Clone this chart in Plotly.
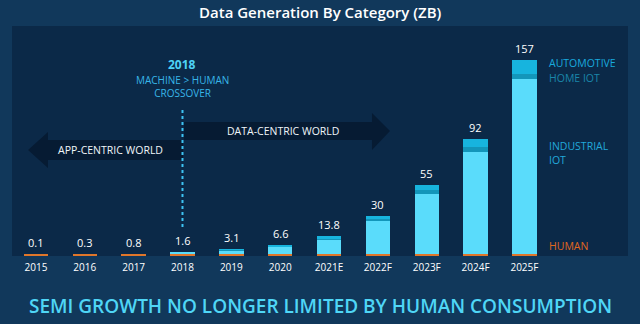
import plotly.graph_objects as go

years = ["2015", "2016", "2017", "2018", "2019", "2020", "2021E", "2022F", "2023F", "2024F", "2025F"]
total_labels = ["0.1", "0.3", "0.8", "1.6", "3.1", "6.6", "13.8", "30", "55", "92", "157"]
human = [2, 2, 2, 2, 2, 2, 2, 2, 2, 2, 2]
industrial_iot = [0, 0, 0, 1.2, 2.8, 5.5, 11, 26, 48, 81.5, 140]
home_iot = [0, 0, 0, 0, 0.3, 0.5, 1.0, 1.6, 3.2, 4.0, 4.0]
automotive = [0, 0, 0, 0, 0.3, 0.6, 1.8, 2.4, 3.5, 6.5, 11.2]

C_HUMAN = "#E0762A"
C_IND = "#5ADCFB"
C_HOME = "#1396BA"
C_AUTO = "#17B4DE"
PANEL = "#0B2948"
OUTER = "#11385B"

# plot area in pixels
L, R, T, B = 12, 628, 26, 256
W, H = 640, 324


def px(x):
    return (x - L) / (R - L)


def py(y):
    return (B - y) / (B - T)


xs = list(range(len(years)))
fig = go.Figure()
for name, vals, col in [("Human", human, C_HUMAN), ("Industrial IoT", industrial_iot, C_IND),
                        ("Home IoT", home_iot, C_HOME), ("Automotive", automotive, C_AUTO)]:
    fig.add_trace(go.Bar(x=xs, y=vals, name=name, marker=dict(color=col, line=dict(width=0)),
                         width=0.5, hoverinfo="skip"))

tops = [h + i + ho + a for h, i, ho, a in zip(human, industrial_iot, home_iot, automotive)]
annotations = []
for x, t, lab in zip(xs, tops, total_labels):
    annotations.append(dict(x=x, y=t, xref="x", yref="y", text=lab, showarrow=False,
                            yanchor="bottom", yshift=2,
                            font=dict(family="Open Sans", size=11, color="#FFFFFF")))

font = "Open Sans"


def ann(xp, yp, text, size, color, xanchor="center", weight=None, xref="paper", align="center"):
    f = dict(family=font, size=size, color=color)
    if weight:
        f["weight"] = weight
    return dict(x=xp, y=py(yp), xref=xref, yref="paper", text=text, showarrow=False,
                xanchor=xanchor, yanchor="middle", align=align, font=f, borderpad=0)


# title
annotations.append(ann(0.5, 12, "Data Generation By Category (ZB)", 15, "#FFFFFF", weight=600))
# right side legend labels
for txt, ypix, col in [("AUTOMOTIVE", 63, "#19A9DE"), ("HOME IOT", 78, "#1A86AA"),
                       ("INDUSTRIAL<br>IOT", 153, "#22A8DA"), ("HUMAN", 246, "#E0681E")]:
    annotations.append(ann(px(548), ypix, txt, 10.5, col, xanchor="left", align="left"))
# crossover text
annotations.append(ann(3, 64, "<b>2018</b>", 12, "#4ED2F6", xref="x"))
annotations.append(ann(3, 86.5, "MACHINE &gt; HUMAN<br>CROSSOVER", 10, "#38B6E8", xref="x"))
# world labels
annotations.append(ann(px(110), 150, "APP-CENTRIC WORLD", 10.5, "#F0F6FA"))
annotations.append(ann(px(283), 131, "DATA-CENTRIC WORLD", 10.5, "#F0F6FA"))
# footer
annotations.append(ann(0.5, 306, "SEMI GROWTH NO LONGER LIMITED BY HUMAN CONSUMPTION", 19, "#4FD6F6",
                       weight=600))


def path_pts(pts):
    return "M " + " L ".join(f"{px(x):.4f},{py(y):.4f}" for x, y in pts) + " Z"


shapes = [
    dict(type="path", xref="paper", yref="paper", layer="below", line=dict(width=0),
         fillcolor="rgba(5,24,46,0.8)",
         path=path_pts([(183, 140), (48, 140), (48, 132), (28, 150), (48, 168), (48, 160), (183, 160)])),
    dict(type="path", xref="paper", yref="paper", layer="below", line=dict(width=0),
         fillcolor="rgba(5,24,46,0.8)",
         path=path_pts([(184, 122), (372, 122), (372, 113), (390, 131), (372, 150), (372, 140), (184, 140)])),
    dict(type="line", xref="x", yref="paper", x0=3, x1=3, y0=py(227), y1=py(107),
         line=dict(color="#3EC3F2", width=2, dash="dot")),
]

fig.update_layout(
    width=W, height=H, barmode="stack", showlegend=False,
    margin=dict(l=L, r=W - R, t=T, b=H - B),
    paper_bgcolor=OUTER, plot_bgcolor=PANEL,
    xaxis=dict(range=[-0.49, 12.12], tickmode="array", tickvals=xs, ticktext=years,
               showgrid=False, zeroline=False, showline=False, ticks="", ticklen=0,
               ticklabelstandoff=4,
               tickfont=dict(family=font, size=10, color="#FFFFFF"), fixedrange=True),
    yaxis=dict(range=[0, 184.3], visible=False, showgrid=False, zeroline=False, fixedrange=True),
    annotations=annotations, shapes=shapes,
)
fig.write_html("out.html", config={"displayModeBar": False})
